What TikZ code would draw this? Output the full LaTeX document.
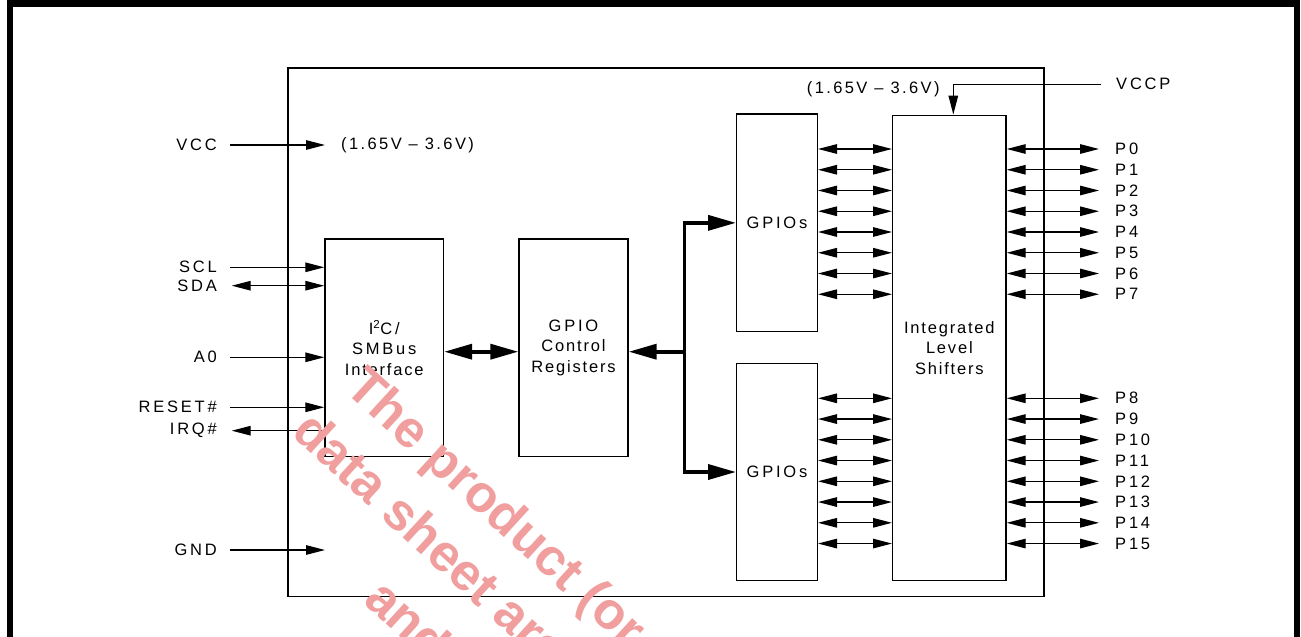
\documentclass[tikz,border=0pt]{standalone}
\usepackage{fontspec}
\setmainfont{Liberation Sans}[LetterSpace=11]
\newfontfamily\capsfont{Liberation Sans}[LetterSpace=17]
\newfontfamily\voltfont{Liberation Sans}[LetterSpace=14.5]
\newfontfamily\wmfont{Liberation Sans}
\usetikzlibrary{arrows.meta,calc}
\definecolor{wmred}{RGB}{240,158,158}
\begin{document}
\begin{tikzpicture}[x=1pt,y=-1pt,
  box/.style={draw,line width=1.4pt,inner sep=0pt,align=center,font=\fontsize{16.5}{20.5}\selectfont},
  lbl/.style={inner sep=0pt,font=\capsfont\fontsize{16.5}{18}\selectfont},
  vlbl/.style={inner sep=0pt,font=\voltfont\fontsize{16.5}{18}\selectfont},
  sig/.style={line width=1.3pt,line join=miter,-{Triangle[length=19pt,width=9.5pt]}},
  dsig/.style={line width=1.3pt,{Triangle[length=19pt,width=9.5pt]}-{Triangle[length=19pt,width=9.5pt]}},
  bus/.style={line width=3.6pt,line join=miter,-{Triangle[length=28pt,width=15pt]}},
  dbus/.style={line width=3.6pt,{Triangle[length=28pt,width=15pt]}-{Triangle[length=28pt,width=15pt]}},
  wm/.style={text=wmred,font=\wmfont\bfseries\fontsize{52}{60}\selectfont,rotate=-42.5,anchor=base west,inner sep=0pt}
]
\useasboundingbox (0,0) rectangle (1301,637);
\clip (0,0) rectangle (1301,637);
% outer frame
\draw[line width=6.5pt] (10,3.5) rectangle (1297,640);
% chip outline
\node[draw,line width=1.4pt,minimum width=756pt,minimum height=528.3pt,inner sep=0pt] (chip) at (666,332.15) {};
% blocks
\node[box,minimum width=118.5pt,minimum height=217.5pt] (i2c) at (384.25,347.75)
  {{\capsfont I\textsuperscript{2}C/}\\{\capsfont SMBus}\\Interface};
\node[box,minimum width=109pt,minimum height=217.5pt] (ctrl) at (573.5,347.75)
  {{\capsfont GPIO}\\Control\\Registers};
\node[box,minimum width=80.6pt,minimum height=217.7pt] (gpioA) at (777,222.85) {\capsfont GPIOs};
\node[box,minimum width=80.6pt,minimum height=217.4pt] (gpioB) at (777,472) {\capsfont GPIOs};
\node[box,minimum width=113.3pt,minimum height=465.4pt] (ls) at (949.35,348)
  {Integrated\\Level\\Shifters};
% supply
\node[lbl,anchor=east] (vcc) at (217,145) {VCC};
\node[vlbl,anchor=west] (vccr) at (341,145) {(1.65V – 3.6V)};
\coordinate (vccend) at (325,145);
\draw[sig] ([xshift=13pt]vcc.east) -- (vccend);
\node[lbl,anchor=east] (gnd) at (217,550) {GND};
\coordinate (gndend) at (325,550);
\draw[sig] ([xshift=13pt]gnd.east) -- (gndend);
\node[lbl,anchor=west] (vccp) at (1116,84.3) {VCCP};
\node[vlbl,anchor=west] (vccpr) at (806.7,89.5) {(1.65V – 3.6V)};
\coordinate (vccpc) at (953.3,84.3);
\draw[sig] ([xshift=-15pt]vccp.west) -- (vccpc) -- (vccpc |- ls.north);
% serial interface
\node[lbl,anchor=east] (scl) at (217,267.3) {SCL};
\draw[sig] ([xshift=13pt]scl.east) -- (scl -| i2c.west);
\node[lbl,anchor=east] (sda) at (217,285.7) {SDA};
\draw[dsig] ([xshift=14.7pt]sda.east) -- (sda -| i2c.west);
\node[lbl,anchor=east] (a0) at (217,357.3) {A0};
\draw[sig] ([xshift=13pt]a0.east) -- (a0 -| i2c.west);
\node[lbl,anchor=east] (rst) at (217,407.3) {RESET\#};
\draw[sig] ([xshift=13pt]rst.east) -- (rst -| i2c.west);
\node[lbl,anchor=east] (irq) at (217,430.7) {IRQ\#};
\draw[sig] (irq -| i2c.west) -- ([xshift=14.7pt]irq.east);
% internal bus
\coordinate (j) at (684.3,351.7);
\draw[dbus] (i2c.east |- j) -- (ctrl.west |- j);
\draw[bus] (j) -- (ctrl.east |- j);
\draw[bus] (j) |- (gpioA.west);
\draw[bus] (j) |- (gpioB.west);
% ports
\foreach \i in {0,...,7} {
  \pgfmathsetmacro\yy{149+20.75*\i}
  \node[lbl,anchor=west] (p\i) at (1115,\yy) {P\i};
  \draw[dsig] (gpioA.east |- p\i) -- (ls.west |- p\i);
  \draw[dsig] (ls.east |- p\i) -- ([xshift=-16pt]p\i.west);
}
\foreach \i in {8,...,15} {
  \pgfmathsetmacro\yy{398.3+20.75*(\i-8)}
  \node[lbl,anchor=west] (p\i) at (1115,\yy) {P\i};
  \draw[dsig] (gpioB.east |- p\i) -- (ls.west |- p\i);
  \draw[dsig] (ls.east |- p\i) -- ([xshift=-16pt]p\i.west);
}
% watermark
\node[wm] (wm1) at (343,390) {The product (or};
\node[wm] (wm2) at (290,434) {data sheet are};
\node[wm] (wm3) at (362,602) {and};
\end{tikzpicture}
\end{document}
